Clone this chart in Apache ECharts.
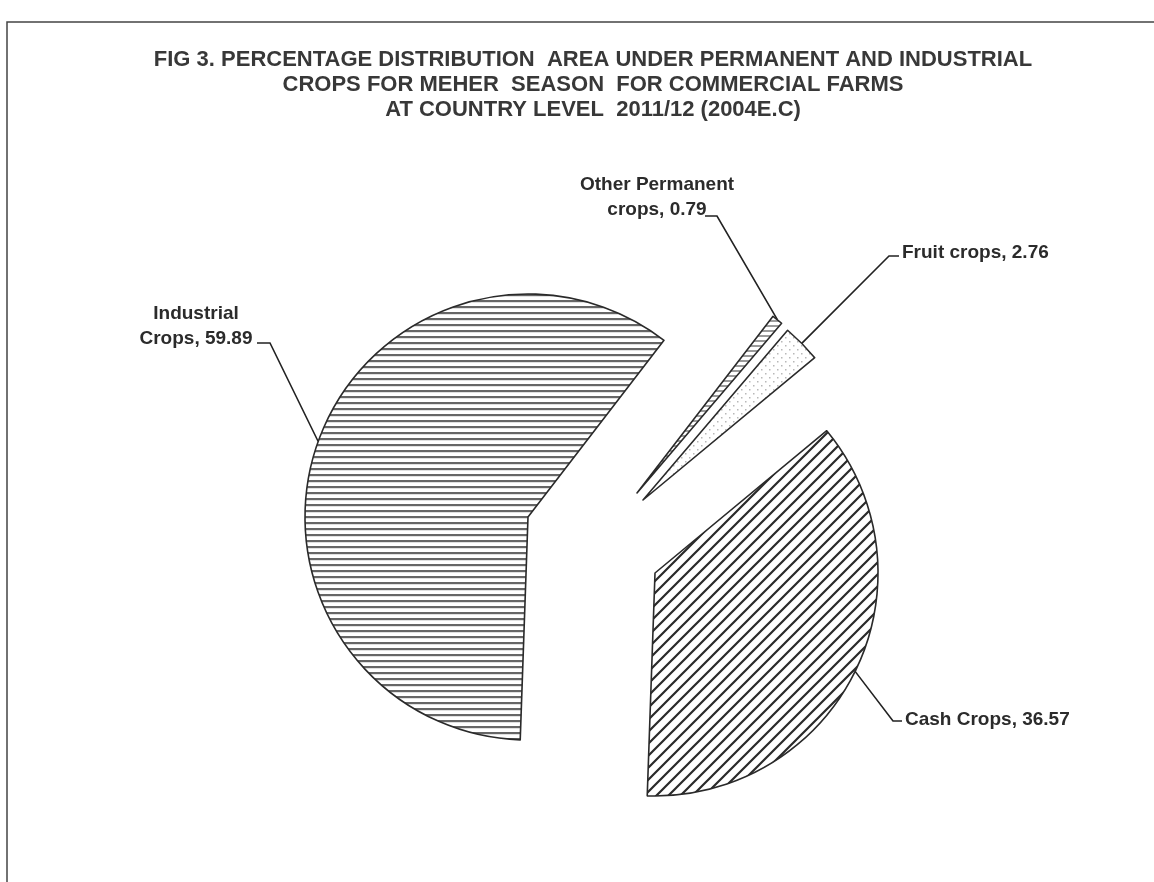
<!DOCTYPE html>
<html><head><meta charset="utf-8">
<script src="https://cdn.jsdelivr.net/npm/echarts@6/dist/echarts.min.js"></script>
<style>html,body{margin:0;padding:0;background:#fff}#c{width:1154px;height:882px}</style>
</head><body><div id="c"></div>
<script>
// ---- data ----
const categories = ['Industrial Crops', 'Other Permanent crops', 'Fruit crops', 'Cash Crops'];
const labelNames = ['Industrial\nCrops', 'Other Permanent\ncrops', 'Fruit crops', 'Cash Crops'];
const values = [59.89, 0.79, 2.76, 36.57];
const titleLines = [
  'FIG 3. PERCENTAGE DISTRIBUTION  AREA UNDER PERMANENT AND INDUSTRIAL',
  'CROPS FOR MEHER  SEASON  FOR COMMERCIAL FARMS',
  'AT COUNTRY LEVEL  2011/12 (2004E.C)'
];

// ---- layout (exploded slice centres and label placement) ----
const sliceCenters = [[528, 517], [637, 493], [643, 500], [655, 573]];
const sliceRadius = 223;
const labelLayouts = [
  { x: 196, y: 326, align: 'center', turn: [270, 343], end: [257, 343] },
  { x: 657, y: 197, align: 'center', turn: [717, 216], end: [705, 216] },
  { x: 902, y: 253, align: 'left', turn: [889, 256], end: [899, 256] },
  { x: 905, y: 720, align: 'left', turn: [893, 721], end: [902, 721] }
];

// ---- hatch patterns ----
function tile(w, h, draw) {
  const c = document.createElement('canvas');
  c.width = w; c.height = h;
  const g = c.getContext('2d');
  g.fillStyle = '#ffffff'; g.fillRect(0, 0, w, h);
  draw(g, w, h);
  return { image: c, repeat: 'repeat' };
}
const patHoriz = tile(8, 6, (g, w) => { g.fillStyle = '#666666'; g.fillRect(0, 0, w, 2.2); });
const patHorizLight = tile(8, 5, (g, w) => { g.fillStyle = '#9a9a9a'; g.fillRect(0, 0, w, 2); });
const patDots = tile(8, 8, (g) => {
  g.fillStyle = '#b8b8b8';
  g.fillRect(1, 1, 1.5, 1.5); g.fillRect(5, 5, 1.5, 1.5);
});
const patDiag = tile(12, 12, (g, w, h) => {
  g.strokeStyle = '#2a2a2a'; g.lineWidth = 2.2;
  g.beginPath();
  g.moveTo(-2, h + 2); g.lineTo(w + 2, -2);
  g.moveTo(-2, 2); g.lineTo(2, -2);
  g.moveTo(w - 2, h + 2); g.lineTo(w + 2, h - 2);
  g.stroke();
});
const fills = [patHoriz, patHorizLight, patDots, patDiag];

const chart = echarts.init(document.getElementById('c'));

const series = categories.map((cat, i) => ({
  type: 'pie',
  center: sliceCenters[i],
  radius: sliceRadius,
  startAngle: 268,
  clockwise: true,
  avoidLabelOverlap: false,
  silent: true,
  animation: false,
  emphasis: { disabled: true },
  label: {
    position: 'outside',
    fontFamily: 'Liberation Sans, Arial, sans-serif',
    fontSize: 19,
    fontWeight: 'bold',
    color: '#2b2b2b',
    lineHeight: 25,
    formatter: (p) => labelNames[p.dataIndex] + ', ' + values[p.dataIndex].toFixed(2)
  },
  labelLine: { show: true, length: 20, length2: 12, lineStyle: { color: '#222', width: 1.6 } },
  labelLayout: (p) => {
    const L = labelLayouts[i];
    const out = { x: L.x, y: L.y, align: L.align, verticalAlign: 'middle' };
    if (p.labelLinePoints && p.labelLinePoints.length) {
      out.labelLinePoints = [p.labelLinePoints[0], L.turn, L.end];
    }
    return out;
  },
  data: categories.map((name, j) => ({
    name: name,
    value: values[j],
    itemStyle: j === i
      ? { color: fills[j], borderColor: '#2a2a2a', borderWidth: 1.6 }
      : { color: 'rgba(0,0,0,0)', borderWidth: 0 },
    label: { show: j === i },
    labelLine: { show: j === i }
  }))
}));

chart.setOption({
  backgroundColor: '#ffffff',
  animation: false,
  title: {
    text: titleLines.join('\n'),
    left: 588,
    top: 42,
    textAlign: 'center',
    textStyle: {
      fontFamily: 'Liberation Sans, Arial, sans-serif',
      fontSize: 22,
      fontWeight: 'bold',
      color: '#383838',
      lineHeight: 25
    }
  },
  graphic: [{
    type: 'polyline',
    shape: { points: [[7, 882], [7, 22], [1154, 22]] },
    style: { stroke: '#444', lineWidth: 1.5, fill: null },
    silent: true
  }],
  series: series
});
</script>
</body></html>
